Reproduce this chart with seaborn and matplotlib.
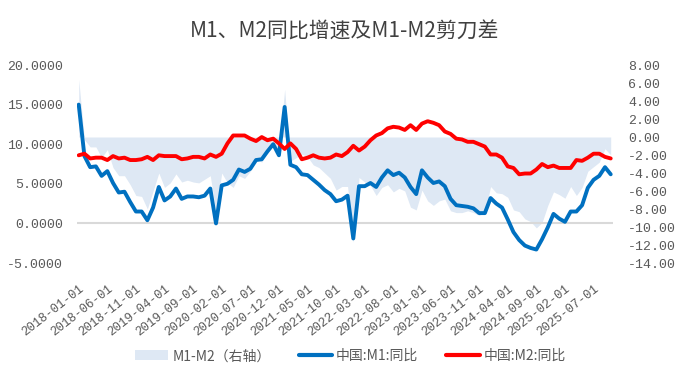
import matplotlib.pyplot as plt
import numpy as np
import pandas as pd
import seaborn as sns
from matplotlib.lines import Line2D
from matplotlib.patches import Patch

sns.set_theme(style="white")
plt.rcParams['font.family'] = ['Noto Sans CJK SC', 'DejaVu Sans']
plt.rcParams['axes.unicode_minus'] = False

# 月度数据 2018-01 ~ 2025-10
dates = pd.date_range('2018-01-01', periods=94, freq='MS')

m1 = [15.0, 8.5, 7.1, 7.2, 6.0, 6.6, 5.1, 3.9, 4.0, 2.7, 1.5, 1.5,
      0.4, 2.0, 4.6, 2.9, 3.4, 4.4, 3.1, 3.4, 3.4, 3.3, 3.5, 4.4,
      0.0, 4.8, 5.0, 5.5, 6.8, 6.5, 6.9, 8.0, 8.1, 9.1, 10.0, 8.6,
      14.7, 7.4, 7.1, 6.2, 6.1, 5.5, 4.9, 4.2, 3.7, 2.8, 3.0, 3.5,
      -1.9, 4.7, 4.7, 5.1, 4.6, 5.8, 6.7, 6.1, 6.4, 5.8, 4.6, 3.7,
      6.7, 5.8, 5.1, 5.3, 4.7, 3.1, 2.3, 2.2, 2.1, 1.9, 1.3, 1.3,
      3.2, 2.5, 2.0, 0.5, -1.1, -2.1, -2.8, -3.1, -3.3, -2.0, -0.5, 1.2,
      0.6, 0.2, 1.5, 1.5, 2.3, 4.5, 5.5, 6.0, 7.1, 6.2]

m2 = [8.6, 8.8, 8.2, 8.3, 8.3, 8.0, 8.5, 8.2, 8.3, 8.0, 8.0, 8.1,
      8.4, 8.0, 8.6, 8.5, 8.5, 8.5, 8.1, 8.2, 8.4, 8.4, 8.2, 8.7,
      8.4, 8.8, 10.1, 11.1, 11.1, 11.1, 10.7, 10.4, 10.9, 10.5, 10.7, 10.1,
      9.4, 10.1, 9.4, 8.1, 8.3, 8.6, 8.3, 8.2, 8.3, 8.7, 8.5, 9.0,
      9.8, 9.2, 9.7, 10.5, 11.1, 11.4, 12.0, 12.2, 12.1, 11.8, 12.4, 11.8,
      12.6, 12.9, 12.7, 12.4, 11.6, 11.3, 10.7, 10.6, 10.3, 10.3, 10.0, 9.7,
      8.7, 8.7, 8.3, 7.2, 7.0, 6.2, 6.3, 6.3, 6.8, 7.5, 7.1, 7.3,
      7.0, 7.0, 7.0, 8.0, 7.9, 8.3, 8.8, 8.8, 8.4, 8.2]

df = pd.DataFrame({'idx': np.arange(len(dates)), 'M1': m1, 'M2': m2})
df['gap'] = df['M1'] - df['M2']  # 剪刀差

blue = '#0070C0'
red = '#FF0000'
area = '#DEE8F4'
grey = '#595959'
num_font = ['Liberation Mono', 'DejaVu Sans']

fig = plt.figure(figsize=(6.9, 3.83), dpi=100)
ax = fig.add_axes([77 / 690, 1 - 263 / 383, (613 - 77) / 690, (263 - 65) / 383])
ax2 = ax.twinx()

# 剪刀差面积（右轴）
ax2.fill_between(df['idx'], 0, df['gap'], color=area, lw=0)

ax.axhline(0, color='#D9D9D9', lw=1.5, zorder=0)
sns.lineplot(data=df, x='idx', y='M1', ax=ax, color=blue, lw=2.8)
sns.lineplot(data=df, x='idx', y='M2', ax=ax, color=red, lw=2.8)

ax.set_zorder(ax2.get_zorder() + 1)
ax.patch.set_visible(False)

ax.set_xlim(-0.3, 93.4)
ax.set_ylim(-5, 20)
ax.set_yticks(np.arange(-5, 21, 5))
ax.set_yticklabels([f'{v:.4f}' for v in np.arange(-5, 21, 5)],
                   family=num_font, fontsize=9.5)
ax2.set_ylim(-14, 8)
ax2.set_yticks(np.arange(-14, 9, 2))
ax2.set_yticklabels([f'{v:.2f}' for v in np.arange(-14, 9, 2)],
                    family=num_font, fontsize=9.5)

ticks = list(range(0, len(dates), 5))
ax.set_xticks(ticks)
ax.set_xticklabels([dates[i].strftime('%Y-%m-%d') for i in ticks],
                   rotation=38, ha='right', rotation_mode='anchor',
                   family=num_font, fontsize=9)
ax.set_xlabel('')
ax.set_ylabel('')

for a in (ax, ax2):
    for s in a.spines.values():
        s.set_visible(False)
    a.tick_params(length=0, labelcolor=grey)
ax.tick_params(axis='y', pad=10)
ax.tick_params(axis='x', pad=14)
ax2.tick_params(axis='y', pad=11)

fig.text(0.5, 0.918, 'M1、M2同比增速及M1-M2剪刀差', ha='center', va='center',
         fontsize=15, color='#404040')

handles = [Patch(color=area, lw=0),
           Line2D([], [], color=blue, lw=3),
           Line2D([], [], color=red, lw=3)]
labels = ['M1-M2（右轴）', '中国:M1:同比', '中国:M2:同比']
fig.legend(handles, labels, loc='center', bbox_to_anchor=(0.508, 0.07), ncol=3,
           frameon=False, fontsize=10, labelcolor=grey, handlelength=2.4,
           handletextpad=0.3, columnspacing=2.0)

fig.savefig('out.png', dpi=100)
